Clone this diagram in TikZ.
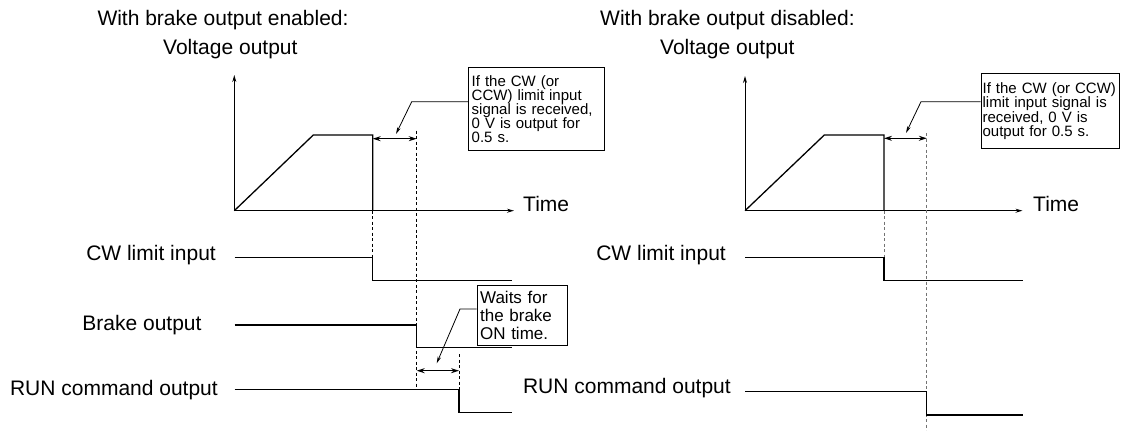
\documentclass[tikz,border=0pt]{standalone}
\usepackage{fontspec}
\setmainfont{Liberation Sans}
\usetikzlibrary{arrows.meta}

\tikzset{
  lbl/.style={font=\fontsize{21}{25}\selectfont, inner sep=0pt},
  note/.style={draw, line width=0.8pt, fill=white, align=left, inner xsep=3pt,
    inner ysep=0pt, anchor=north west, font=\fontsize{15}{14.2}\selectfont},
  sig/.style={line width=1.3pt},
  axis/.style={line width=1pt, -{Stealth[length=7pt,width=4pt]}},
  guide/.style={dash pattern=on 3pt off 2.5pt, line width=0.8pt},
  span/.style={line width=1pt, {Stealth[length=8pt,width=5pt]}-{Stealth[length=8pt,width=5pt]}},
  lead/.style={line width=0.8pt, -{Stealth[length=7pt,width=3.5pt]}},
}

\begin{document}
\begin{tikzpicture}[x=1pt, y=-1pt]
  \useasboundingbox (0,0) rectangle (1122,431);

  % --- left panel: brake output enabled ---
  \node[lbl, anchor=base west] (titleL) at (97.3,25) {With brake output enabled:};
  \node[lbl, anchor=base west] (voltL) at (163,54.5) {Voltage output};

  % axes
  \coordinate (oL) at (234.3,210.7);
  \draw[axis] (oL) -- (234.3,75);
  \draw[axis] (oL) -- (514,210.7);
  \node[lbl, anchor=base west] (timeL) at (523,211.5) {Time};

  % voltage profile, drops to 0 V at the limit input
  \draw[sig] (oL) -- (313.3,135) -- (372.7,135) -- (372.7,210.7);

  % time guides (drawn first, the signals sit on top)
  \draw[guide] (372.7,210.7) -- (372.7,257.3);
  \draw[guide] (416.7,130.7) -- (416.7,389.3);
  \draw[guide] (459,354) -- (459,389.3);

  % 0.5 s span and its callout
  \draw[span] (372.7,138.7) -- (416.7,138.7);
  \node[note, text width=129.7pt, minimum height=82.7pt] (noteL) at (468.3,67.3)
    {If the CW (or\\CCW) limit input\\signal is received,\\0 V is output for\\0.5 s.};
  \coordinate (kneeL) at (411.7,101.7);
  \coordinate (tipL) at (396,134);
  \draw[lead] (noteL.west |- kneeL) -- (kneeL) -- (tipL);

  % timing signals
  \node[lbl, anchor=base east] (cwL) at (216,260) {CW limit input};
  \draw[sig] (234.6,257.3) -- (372.7,257.3) -- (372.7,280.7) -- (511.7,280.7);
  \node[lbl, anchor=base east] (brakeL) at (201.7,330) {Brake output};
  \draw[sig] (234.6,325) -- (416.7,325) -- (416.7,347.7) -- (511.7,347.7);
  \node[lbl, anchor=base east] (runL) at (218,395) {RUN command output};
  \draw[sig] (234.6,389.3) -- (459,389.3) -- (459,412.7) -- (511.7,412.7);

  % brake ON time span and its callout
  \draw[span] (416.7,370.7) -- (459,370.7);
  \node[note, font=\fontsize{17}{18.3}\selectfont, text width=84.3pt, minimum height=60pt]
    (noteW) at (476.7,285) {Waits for\\the brake\\ON time.};
  \coordinate (kneeW) at (460,309);
  \coordinate (tipW) at (436.7,363.3);
  \draw[lead] (noteW.west |- kneeW) -- (kneeW) -- (tipW);

  % --- right panel: brake output disabled ---
  \node[lbl, anchor=base west] (titleR) at (600,25) {With brake output disabled:};
  \node[lbl, anchor=base west] (voltR) at (660,54.5) {Voltage output};

  % axes
  \coordinate (oR) at (745,210.7);
  \draw[axis] (oR) -- (745,76);
  \draw[axis] (oR) -- (1022.5,210.7);
  \node[lbl, anchor=base west] (timeR) at (1033,211.5) {Time};

  % voltage profile
  \draw[sig] (oR) -- (824.3,135) -- (884,135) -- (884,210.7);

  % time guides
  \draw[guide, black!55] (884,210.7) -- (884,257.3);
  \draw[guide, black!55] (926.8,133) -- (926.8,430);

  % 0.5 s span and its callout
  \draw[span] (884,138.3) -- (926.8,138.3);
  \node[note, inner xsep=1.5pt, text width=135.6pt, minimum height=75pt] (noteR) at (980.7,73.3)
    {If the CW (or CCW)\\limit input signal is\\received, 0 V is\\output for 0.5 s.};
  \coordinate (kneeR) at (921,101.7);
  \coordinate (tipR) at (906,133);
  \draw[lead] (noteR.west |- kneeR) -- (kneeR) -- (tipR);

  % timing signals
  \node[lbl, anchor=base east] (cwR) at (726,260) {CW limit input};
  \draw[sig] (745,257.3) -- (884,257.3) -- (884,280.7) -- (1022.5,280.7);
  \node[lbl, anchor=base east] (runR) at (731,393.3) {RUN command output};
  \draw[sig] (745,391.7) -- (926.8,391.7) -- (926.8,415) -- (1022.5,415);
\end{tikzpicture}
\end{document}
